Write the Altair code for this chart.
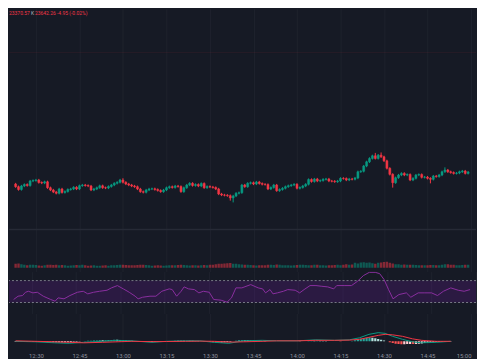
import altair as alt
import pandas as pd

# ---------------- style ----------------
BG = "#161a25"
GRID = "#1e222d"
UP = "#089981"
DOWN = "#f23645"
W = 469

# ---------------- data ----------------
start_minute = 740          # 12:20, first 1-minute bar
first_open = 23654.0
closes = [
    23644.4, 23634.0, 23626.7, 23620.7, 23614.4, 23622.2, 23625.6, 23623.3, 23633.3, 23634.4,
    23635.6, 23630.0, 23628.9, 23631.6, 23618.4, 23613.3, 23608.9, 23606.0, 23615.6, 23607.8,
    23610.0, 23614.4, 23615.6, 23619.3, 23615.6, 23622.9, 23624.4, 23623.3, 23622.2, 23613.3,
    23615.6, 23618.4, 23622.7, 23618.4, 23617.8, 23621.1, 23624.4, 23628.2, 23630.4, 23635.6,
    23630.4, 23626.7, 23624.4, 23622.2, 23620.7, 23615.6, 23609.6, 23608.2, 23613.3, 23615.6,
    23616.0, 23614.4, 23612.2, 23609.6, 23613.3, 23618.4, 23620.7, 23618.9, 23622.2, 23621.1,
    23609.6, 23618.4, 23624.4, 23628.2, 23623.3, 23625.6, 23622.2, 23627.8, 23618.4, 23621.1,
    23620.0, 23618.9, 23615.6, 23604.4, 23602.2, 23601.6, 23600.7, 23595.6, 23600.0, 23606.0,
    23607.3, 23624.4, 23620.7, 23628.2, 23629.6, 23626.7, 23631.1, 23627.8, 23626.0, 23625.6,
    23615.6, 23618.9, 23624.4, 23611.8, 23614.4, 23617.1, 23620.7, 23622.9, 23624.4, 23626.0,
    23617.1, 23618.9, 23622.2, 23626.0, 23636.7, 23632.2, 23637.8, 23633.3, 23634.4, 23637.1,
    23637.8, 23633.3, 23632.9, 23631.8, 23633.3, 23639.3, 23638.9, 23635.6, 23637.8, 23637.3,
    23640.0, 23654.0, 23655.1, 23666.7, 23676.2, 23683.8, 23689.6, 23683.8, 23691.1, 23687.3,
    23678.4, 23661.6, 23648.2, 23629.6, 23640.7, 23646.7, 23650.4, 23646.7, 23647.8, 23635.6,
    23639.3, 23646.7, 23647.8, 23641.6, 23642.2, 23639.3, 23637.1, 23644.4, 23643.3, 23646.7,
    23654.0, 23657.8, 23654.0, 23652.2, 23650.4, 23651.1, 23654.0, 23655.6, 23650.4, 23653.3,
    23642.3,
]
wick_default = 2.5
wick_up = {0: 3, 40: 4, 127: 6.5, 129: 6, 151: 6}
wick_down = {77: 6, 78: 10, 133: 11, 146: 9}

volumes = [
    300, 320, 350, 400, 420, 330, 280, 250, 300, 280,
    260, 220, 200, 240, 300, 280, 260, 300, 250, 270,
    230, 200, 220, 250, 260, 240, 280, 230, 200, 210,
    240, 200, 190, 210, 230, 200, 250, 240, 260, 280,
    300, 260, 240, 250, 230, 270, 300, 280, 260, 240,
    200, 220, 230, 210, 190, 220, 240, 230, 250, 270,
    300, 260, 240, 220, 250, 230, 210, 240, 260, 250,
    280, 300, 350, 380, 400, 420, 450, 470, 400, 380,
    350, 320, 300, 280, 260, 240, 220, 250, 240, 230,
    300, 280, 260, 320, 280, 250, 230, 250, 220, 240,
    260, 280, 300, 260, 240, 230, 280, 300, 240, 230,
    220, 250, 240, 260, 280, 250, 300, 330, 280, 320,
    480, 420, 520, 550, 500, 520, 450, 400, 480, 520,
    560, 600, 480, 420, 350, 330, 300, 320, 280, 300,
    280, 260, 250, 240, 230, 250, 270, 260, 240, 230,
    300, 330, 350, 300, 280, 250, 240, 260, 280, 300, 400,
]

rsi_t = [0, 1.5, 4, 5.5, 7, 8, 9, 10.5, 12, 14, 16.5, 18, 19, 21, 23, 25.5, 27.5, 29, 31, 33,
         35.5, 37, 39, 41, 43, 45, 46, 47.5, 50, 52, 54, 56.5, 57.5, 59, 60.5, 61.5, 63, 65, 66.5, 68,
         70, 71.5, 74, 76, 77.5, 79, 81, 84, 86.5, 88, 89, 90.5, 91.5, 93, 95, 96.5, 99, 100.5, 102, 104,
         106, 108, 110, 112, 113, 115.5, 118, 120, 122, 124, 126, 127.5, 129, 130.5, 132, 134, 136.5, 138,
         140.5, 142.5, 145, 147, 149, 151.5, 154, 156, 158, 160, 161.5]
rsi_v = [59.6, 47.6, 35.5, 41.5, 42.7, 48.7, 50.5, 47.6, 48.7, 41.5, 35.5, 32.4, 38.5, 36.7, 42.7,
         48.7, 50.5, 45.8, 48.7, 50.5, 52.4, 56.7, 60.9, 54.9, 48.7, 41.5, 36.7, 39.6, 41.5, 41.5,
         50.5, 54.9, 53.6, 41.5, 50.5, 58.5, 54.9, 53.6, 47.6, 50.5, 48.7, 35.5, 34.2, 30.5, 38.5,
         56.7, 56.7, 62.7, 56.7, 54.9, 47.6, 53.6, 45.8, 47.6, 50.5, 53.6, 52.4, 47.6, 53.6, 60.9,
         60.9, 59.6, 58.5, 54.9, 60.9, 60.9, 60.9, 68.7, 79.1, 85.1, 85.1, 82.7, 71.8, 53.6, 36.7,
         44.5, 47.6, 39.6, 47.6, 47.6, 47.6, 42.7, 50.5, 56.7, 52.4, 50.5, 53.6, 53.6, 44.5]
rsi_levels = [70, 30]

macd_t = [0, 3, 10, 16.5, 21.5, 26.5, 33, 38, 43, 50, 55, 61.5, 66.5, 71.5, 76.5, 81.5, 88, 93,
          100, 106.5, 113, 118, 121.5, 124.8, 128, 130.4, 133, 136.4, 139.8, 143, 148, 153, 160]
macd_v = [1, 0, -0.5, -1.5, -2, -1, 0, 1, 0.5, -1, 0, 0.5, 0.5, -1, -2, 0.5, 1, 0.5, 0.5, 1.5,
          1, 1.5, 3.5, 7, 8.7, 8, 5, 2, -0.5, -1.5, -1, 0, 0.5]
signal_v = [2, 0.5, 0, -0.5, -1, -1.5, -1, -0.5, 0, -0.3, -0.2, 0, 0.2, 0, -0.8, -0.5, 0, 0.5,
            0.5, 1, 1, 1.2, 2, 4, 6, 7, 6.5, 5, 2.5, 1, 0, 0, 0.2]
hist = [
    -1, -0.8, -0.6, -0.5,
    -0.5, -0.5, -0.4, -0.4, -0.5, -0.5, -0.5,
    -0.6, -0.7, -0.8, -0.9, -1, -1,
    -1, -1, -0.9, -0.9, -0.8, -0.7,
    -0.5, -0.3, -0.1, 0.1, 0.3,
    0.5, 0.7, 0.8, 0.9, 1, 1,
    1.2, 1.3, 1.4, 1.5, 1.5,
    1.3, 1, 0.8, 0.6, 0.5,
    0.2, 0, -0.2, -0.4, -0.6, -0.7, -0.7,
    -0.5, -0.3, -0.1, 0.1, 0.2, 0.3,
    0.4, 0.5, 0.5, 0.5, 0.5, 0.6,
    0.6, 0.5, 0.4, 0.3, 0.2,
    -0.2, -0.5, -0.8, -1, -1.1,
    -1.3, -1.2, -1, -0.8, -0.4,
    0.2, 0.6, 1, 1.2, 1.1,
    1, 0.9, 0.8, 0.6, 0.5, 0.4,
    0.3, 0.2, 0.1, 0, 0, 0.1, 0.1,
    0.1, 0, 0, 0, 0, -0.1,
    0.1, 0.2, 0.3, 0.4, 0.4, 0.5,
    0.5, 0.4, 0.3, 0.2, 0.1, 0,
    0, -0.1, 0, 0.1, 0.2, 0.4,
    1, 1.8, 2.6, 3.2, 3.6, 3.8, 3.6,
    3.1, 2.4, 1.6, 0.8, 0,
    -1, -1.8, -2.4, -2.8, -3, -3, -2.8, -2.6,
    -2.8, -2.6, -2.4, -2.1, -1.8, -1.5, -1.2,
    -1, -0.8, -0.6, -0.4, -0.3, -0.2, -0.1,
    0, 0, 0.1, 0.1, 0.1, 0.2, 0.2,
]

time_ticks = [750, 765, 780, 795, 810, 825, 840, 855, 870, 885, 900]
price_grid = [23550, 23600, 23650, 23700, 23750, 23800, 23850, 23900, 23950, 24000]
ref_level = [23920]
header_low = "23370.57"
header_k = "K"
header_rest = "23642.26 -4.95 (-0.02%)"

# ---------------- frames ----------------
n = len(closes)
opens = [first_open] + closes[:-1]
rows = []
for i in range(n):
    o, c = opens[i], closes[i]
    rows.append({
        "t": start_minute + i,
        "o": o, "c": c,
        "h": max(o, c) + wick_up.get(i, wick_default),
        "l": min(o, c) - wick_down.get(i, wick_default),
        "dir": "up" if c >= o else "down",
        "vol": volumes[i],
    })
candles = pd.DataFrame(rows)

hcols = []
prev = 0.0
for h in hist:
    if h >= 0:
        hcols.append("#26a69a" if h > prev else "#b2dfdb")
    else:
        hcols.append("#ff5252" if h < prev else "#ffcdd2")
    prev = h
hist_df = pd.DataFrame({"t": [start_minute + i for i in range(len(hist))], "h": hist, "hc": hcols})

rsi_df = pd.DataFrame({"t": [start_minute + v for v in rsi_t], "r": rsi_v})
macd_df = pd.DataFrame({"t": [start_minute + v for v in macd_t] * 2,
                        "v": macd_v + signal_v,
                        "s": ["MACD"] * len(macd_t) + ["Signal"] * len(macd_t)})

# the window shows only part of the session (left/right edges cut)
XDOM = [742.433, 900.0]
VISIBLE = "datum.t >= 742.7 && datum.t <= 899.3"
dir_scale = alt.Scale(domain=["up", "down"], range=[UP, DOWN])
label_expr = "floor(datum.value/60) + ':' + (datum.value % 60 == 0 ? '00' : '' + (datum.value % 60))"


def xenc(labels=False):
    return alt.X("t:Q", scale=alt.Scale(domain=XDOM, nice=False, zero=False),
                 axis=alt.Axis(values=time_ticks, grid=True, labels=labels, ticks=False,
                               domain=False, title=None, labelExpr=label_expr,
                               labelPadding=3, labelFlush=False,
                               labelAlign=alt.condition("datum.value >= 900", alt.value("right"), alt.value("center"))))


# ---------------- main price pane ----------------
ydom = [23526.7, 24017.8]
yscale = alt.Scale(domain=ydom, nice=False, zero=False)
yaxis = alt.Axis(values=price_grid, grid=True, labels=False, ticks=False, domain=False,
                 title=None, minExtent=0, maxExtent=0)

base = alt.Chart(candles).transform_filter(VISIBLE)
grid_layer = alt.Chart(pd.DataFrame({"g": price_grid})).mark_rule(opacity=0).encode(
    y=alt.Y("g:Q", scale=yscale, axis=yaxis))
ref_layer = alt.Chart(pd.DataFrame({"p": ref_level})).mark_rule(
    color=DOWN, opacity=0.08, strokeWidth=1).encode(y=alt.Y("p:Q", scale=yscale, axis=None))
wicks = base.mark_rule(strokeWidth=1, clip=True).encode(
    x=xenc(), y=alt.Y("l:Q", scale=yscale, axis=None), y2="h:Q",
    color=alt.Color("dir:N", scale=dir_scale, legend=None))
bodies = base.mark_bar(size=2, strokeWidth=0.5, clip=True).encode(
    x=xenc(), y=alt.Y("o:Q", scale=yscale, axis=None), y2="c:Q",
    color=alt.Color("dir:N", scale=dir_scale, legend=None),
    stroke=alt.Stroke("dir:N", scale=dir_scale, legend=None))
hdr_df = pd.DataFrame({"a": [header_low], "k": [header_k], "r": [header_rest]})
hdr1 = alt.Chart(hdr_df).mark_text(align="left", baseline="middle", fontSize=5,
                                   font="Roboto", color=DOWN).encode(
    x=alt.value(0), y=alt.value(4), text="a:N")
hdr2 = alt.Chart(hdr_df).mark_text(align="left", baseline="middle", fontSize=5,
                                   font="Roboto", color="#b2b5be").encode(
    x=alt.value(22), y=alt.value(4), text="k:N")
hdr3 = alt.Chart(hdr_df).mark_text(align="left", baseline="middle", fontSize=5,
                                   font="Roboto", color=DOWN).encode(
    x=alt.value(26), y=alt.value(4), text="r:N")

main = alt.layer(grid_layer, ref_layer, wicks, bodies, hdr1, hdr2, hdr3).properties(width=W, height=221)

# ---------------- volume pane ----------------
vscale = alt.Scale(domain=[-400, 3900], nice=False, zero=False)
sep = alt.Chart(pd.DataFrame({"a": [0]})).mark_rule(color="#262a36", strokeWidth=1.5).encode(
    y=alt.value(0.75))
vbars = base.mark_bar(size=2.4, opacity=0.5, clip=True).encode(
    x=xenc(), y=alt.Y("vol:Q", scale=vscale, axis=None), y2=alt.datum(0),
    color=alt.Color("dir:N", scale=dir_scale, legend=None))
vol = alt.layer(vbars, sep).properties(width=W, height=43)

# ---------------- RSI pane ----------------
rscale = alt.Scale(domain=[10, 86.4], nice=False, zero=False)
band_df = pd.DataFrame({"hi": [rsi_levels[0]], "lo": [rsi_levels[1]]})
band = alt.Chart(band_df).mark_rect(color="#6a1b9a", opacity=0.25).encode(
    y=alt.Y("lo:Q", scale=rscale, axis=None), y2="hi:Q")
lvl = alt.Chart(pd.DataFrame({"lv": rsi_levels})).mark_rule(
    color="#787b86", strokeDash=[2, 2], strokeWidth=1).encode(
    y=alt.Y("lv:Q", scale=rscale, axis=None))
rline = alt.Chart(rsi_df).transform_filter(VISIBLE).mark_line(
    color="#8a2f9f", strokeWidth=1, clip=True).encode(
    x=xenc(), y=alt.Y("r:Q", scale=rscale, axis=None))
rsi = alt.layer(band, lvl, rline).properties(width=W, height=42)

# ---------------- MACD pane ----------------
mscale = alt.Scale(domain=[-8, 28], nice=False, zero=False)
hbars = alt.Chart(hist_df).transform_filter(VISIBLE).mark_bar(size=2.2, clip=True).encode(
    x=xenc(labels=True), y=alt.Y("h:Q", scale=mscale, axis=None), y2=alt.datum(0),
    color=alt.Color("hc:N", scale=None))
mlines = alt.Chart(macd_df).transform_filter(VISIBLE).mark_line(strokeWidth=1, clip=True).encode(
    x=xenc(labels=True), y=alt.Y("v:Q", scale=mscale, axis=None),
    color=alt.Color("s:N", scale=alt.Scale(domain=["MACD", "Signal"], range=["#2962ff", "#ff6d00"]),
                    legend=None))
macd = alt.layer(hbars, mlines).properties(width=W, height=36)

chart = alt.vconcat(main, vol, rsi, macd, spacing=0).properties(
    background=BG, padding=0
).configure_view(stroke=None).configure_axis(
    gridColor=GRID, gridWidth=1, labelColor="#8d919c", labelFont="Roboto", labelFontSize=6,
    minExtent=0,
)

chart.save("out.html", embed_options={"renderer": "svg", "actions": False})
